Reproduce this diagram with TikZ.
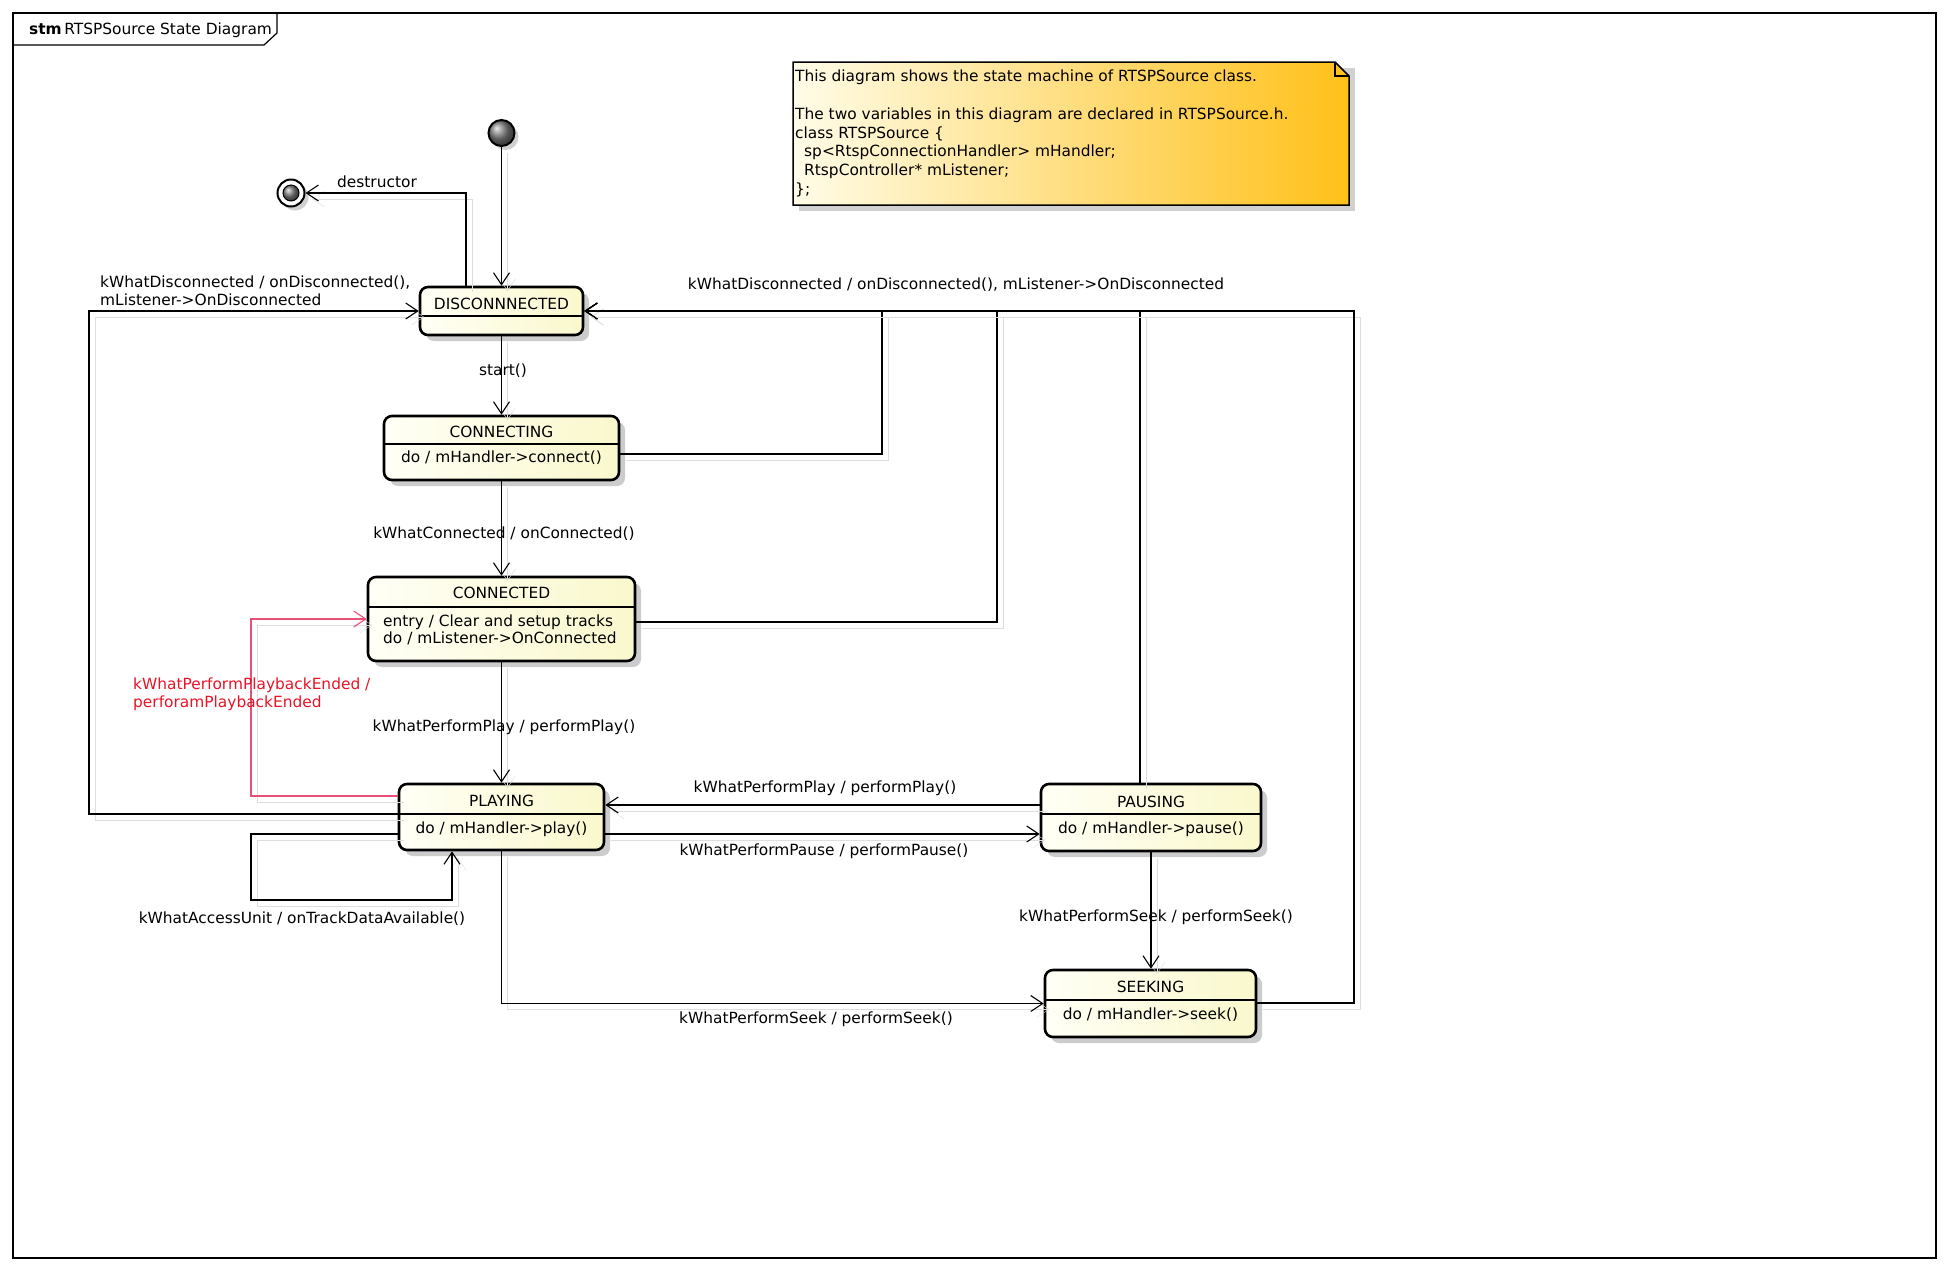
\documentclass[tikz,border=0pt]{standalone}
\usepackage{fontspec}
\setmainfont{DejaVu Sans}
\usetikzlibrary{arrows.meta, shadows}

\newcommand{\lblfont}{\fontsize{15.4pt}{18pt}\selectfont}

\begin{document}
\begin{tikzpicture}[x=1pt, y=-1pt, % pixel grid, y pointing down
    state/.style={draw, line width=2.6pt, rounded corners=8pt, inner sep=0,
        left color=stlight, right color=stdark,
        drop shadow={shadow xshift=6pt, shadow yshift=-6pt, fill=black!20, opacity=1}},
    sep/.style={line width=1.2pt},
    lbl/.style={font=\lblfont, inner sep=0},
    tr/.style={draw, line width=1.1pt, -{Straight Barb[length=12pt, width=16pt]},
        general shadow={draw=black!13, shadow xshift=6pt, shadow yshift=-6pt}},
    trred/.style={tr, draw=pinkred},
    initst/.style={circle, draw, line width=2pt, minimum size=26pt, inner sep=0,
        ball color=black!50, drop shadow={shadow xshift=4pt, shadow yshift=-4pt, fill=black!18, opacity=1}},
    finst/.style={circle, draw, line width=2pt, minimum size=27pt, inner sep=0, fill=white,
        drop shadow={shadow xshift=4pt, shadow yshift=-4pt, fill=black!18, opacity=1}},
    finin/.style={circle, draw, line width=1pt, minimum size=16pt, inner sep=0, ball color=black!50}]

    % Define colors
    \definecolor{stlight}{RGB}{255,255,246}
    \definecolor{stdark}{RGB}{250,248,204}
    \definecolor{notelt}{RGB}{255,252,232}
    \definecolor{notedk}{RGB}{255,192,24}
    \definecolor{pinkred}{RGB}{232,80,120}
    \definecolor{lblred}{RGB}{232,20,40}

    % Page and frame with its name tab
    \fill[white] (0,0) rectangle (1949,1270);
    \useasboundingbox (0,0) rectangle (1949,1270);
    \draw[line width=1.2pt] (13,13) rectangle (1936,1258);
    \draw[line width=1.2pt] (13,45) -- (264,45) -- (277,33) -- (277,13);
    \node[lbl, anchor=west] (frametitle) at (29,30) {\textbf{stm}\,RTSPSource State Diagram};

    % Comment note (dog-eared)
    \fill[black!18] (799,68) rectangle (1355,211);
    \shade[left color=notelt, right color=notedk] (793,62) -- (1335,62) -- (1349,76) -- (1349,205) -- (793,205) -- cycle;
    \draw[line width=1.5pt] (793,62) -- (1335,62) -- (1349,76) -- (1349,205) -- (793,205) -- cycle;
    \draw[line width=1.2pt] (1335,62) -- (1335,76) -- (1349,76);
    \node[lbl, anchor=north west, align=left, font=\fontsize{15.4pt}{18.7pt}\selectfont] (note) at (795,70) {%
        This diagram shows the state machine of RTSPSource class.\\[18.7pt]
        The two variables in this diagram are declared in RTSPSource.h.\\
        class RTSPSource \{\\
        \hspace*{9pt}sp<RtspConnectionHandler> mHandler;\\
        \hspace*{9pt}RtspController* mListener;\\
        \};};

    % Pseudo states
    \node[initst] (init) at (501.5,133) {};
    \node[finst] (final) at (291,193) {};
    \node[finin] (finalin) at (final) {};

    % States
    \node[state, minimum width=163pt, minimum height=48pt] (discon) at (501.5,311) {};
    \node[state, minimum width=235pt, minimum height=64pt] (connecting) at (501.5,448) {};
    \node[state, minimum width=267pt, minimum height=84pt] (connected) at (501.5,619) {};
    \node[state, minimum width=205pt, minimum height=66pt] (playing) at (501.5,817) {};
    \node[state, minimum width=220pt, minimum height=67pt] (pausing) at (1151,817.5) {};
    \node[state, minimum width=211pt, minimum height=67pt] (seeking) at (1150.5,1003.5) {};

    % Compartment lines and state names
    \foreach \s/\y in {discon/316, connecting/444, connected/607, playing/814, pausing/814, seeking/1000} {
            \draw[sep] (\s.west |- 0,\y) -- (\s.east |- 0,\y);
        }
    \foreach \s/\t/\y in {discon/DISCONNNECTED/304, connecting/CONNECTING/432, connected/CONNECTED/593,
            playing/PLAYING/801, pausing/PAUSING/802, seeking/SEEKING/987} {
            \node[lbl] (\s-t) at (\s |- 0,\y) {\t};
        }

    % Internal activities
    \node[lbl] (connecting-b) at (501.5,458) {do / mHandler->connect()};
    \node[lbl, anchor=west, align=left, font=\fontsize{15.4pt}{17pt}\selectfont] (connected-b) at (383,629.5) {entry / Clear and setup tracks\\do / mListener->OnConnected};
    \node[lbl] (playing-b) at (501.5,829) {do / mHandler->play()};
    \node[lbl] (pausing-b) at (1151,829) {do / mHandler->pause()};
    \node[lbl] (seeking-b) at (1150.5,1015) {do / mHandler->seek()};

    % Transitions
    \draw[tr] (init) -- (discon);
    \draw[tr] (discon.north -| 466,0) |- (final);
    \draw[tr] (discon) -- (connecting);
    \draw[tr] (connecting) -- (connected);
    \draw[tr] (connected) -- (playing);
    \draw[tr] (pausing.west |- 0,805) -- (playing.east |- 0,805);
    \draw[tr] (playing.east |- 0,834) -- (pausing.west |- 0,834);
    \draw[tr] (pausing.south) -- (pausing.south |- seeking.north);
    \draw[tr] (playing) |- (seeking);
    \draw[tr] (playing.west |- 0,834) -- (251,834) |- (452,900) -- (playing.south -| 452,0); % self loop
    \draw[trred] (playing.west |- 0,796) -- (251,796) |- (connected.west);
    \draw[tr] (playing.west |- 0,814) -- (89,814) |- (discon.west);

    % back to DISCONNNECTED on the right
    \draw[tr] (connecting.east |- 0,454) -- (882,454) |- (discon.east);
    \draw[tr] (connected.east |- 0,622) -- (997,622) |- (discon.east);
    \draw[tr] (pausing.north -| 1140,0) |- (discon.east);
    \draw[tr] (seeking.east |- 0,1003) -- (1354,1003) |- (discon.east);

    % Transition labels
    \node[lbl] (l-destr) at (377,182) {destructor};
    \node[lbl] (l-start) at (503,371) {start()};
    \node[lbl, anchor=west, align=left] (l-discl) at (100,291) {kWhatDisconnected / onDisconnected(),\\mListener->OnDisconnected};
    \node[lbl] (l-discr) at (956,285) {kWhatDisconnected / onDisconnected(), mListener->OnDisconnected};
    \node[lbl] (l-conn) at (504,534) {kWhatConnected / onConnected()};
    \node[lbl] (l-play) at (504,727) {kWhatPerformPlay / performPlay()};
    \node[lbl, anchor=west, align=left, text=lblred] (l-ended) at (133,694.5) {kWhatPerformPlaybackEnded /\\perforamPlaybackEnded};
    \node[lbl] (l-access) at (302,919) {kWhatAccessUnit / onTrackDataAvailable()};
    \node[lbl] (l-play2) at (825,788) {kWhatPerformPlay / performPlay()};
    \node[lbl] (l-pause) at (824,851) {kWhatPerformPause / performPause()};
    \node[lbl] (l-seek) at (1156,917) {kWhatPerformSeek / performSeek()};
    \node[lbl] (l-seek2) at (816,1019) {kWhatPerformSeek / performSeek()};

\end{tikzpicture}
\end{document}
